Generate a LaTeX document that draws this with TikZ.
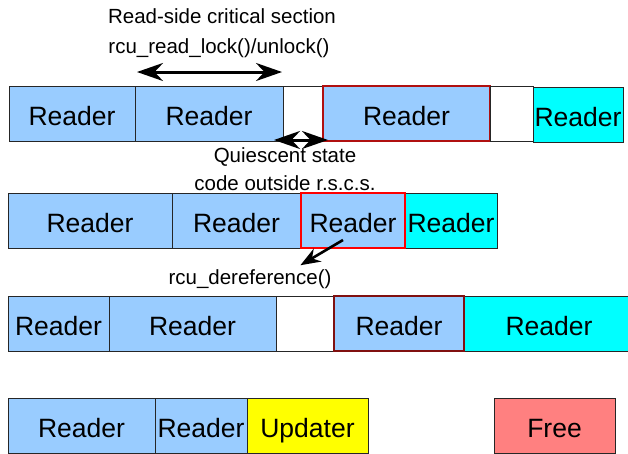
\documentclass[tikz,border=0pt]{standalone}
\usepackage{fontspec}
\setmainfont{Liberation Sans}
\usetikzlibrary{arrows.meta}
\definecolor{rdblue}{HTML}{99CCFF}
\definecolor{rdcyan}{HTML}{00FFFF}
\definecolor{updyellow}{HTML}{FFFF00}
\definecolor{freered}{HTML}{FF8080}
\definecolor{darkred}{HTML}{B01010}
\definecolor{maroon}{HTML}{801010}
\tikzset{
  seg/.style={draw=black!85, line width=0.8pt, inner sep=0pt, outer sep=0pt,
    minimum height=55pt, text height=24pt, text depth=0pt,
    font=\fontsize{26.5}{30}\selectfont, anchor=north west},
  rdr/.style={seg, fill=rdblue},
  cyn/.style={seg, fill=rdcyan},
  gap/.style={seg, fill=white},
  lbl/.style={font=\fontsize{20.5}{24}\selectfont, inner sep=0pt},
  dbl/.style={line width=3pt, {Stealth[length=26pt,width=18pt]}-{Stealth[length=26pt,width=18pt]}},
  sgl/.style={line width=2.6pt, -{Stealth[length=20pt,width=15pt]}}
}
\begin{document}
\begin{tikzpicture}[x=1pt,y=-1pt]
\useasboundingbox (0,0) rectangle (628,453);

% first timeline
\node[rdr, minimum width=126pt] (a1) at (9,86) {Reader};
\node[rdr, minimum width=148pt] (a2) at (135,86) {Reader};
\node[gap, minimum width=40pt] (a3) at (283,86) {};
\node[rdr, draw=darkred, line width=2pt, minimum width=167pt] (a4) at (323,86) {Reader};
\node[gap, minimum width=43pt] (a5) at (490,86) {};
\node[cyn, minimum width=90pt] (a6) at (533,87) {Reader};

% second timeline
\node[rdr, minimum width=164pt] (b1) at (8,193) {Reader};
\node[rdr, minimum width=129pt] (b2) at (172,193) {Reader};
\node[cyn, minimum width=92pt] (b4) at (405,193) {Reader};
\node[rdr, draw=red, line width=2.8pt, minimum width=104pt] (b3) at (301,193) {Reader};

% third timeline
\node[rdr, minimum width=101pt] (c1) at (8,296) {Reader};
\node[rdr, minimum width=167pt] (c2) at (109,296) {Reader};
\node[gap, minimum width=58pt] (c3) at (276,296) {};
\node[cyn, minimum width=170pt] (c5) at (464,296) {Reader};
\node[rdr, draw=maroon, line width=2pt, minimum width=130pt] (c4) at (334,296) {Reader};

% fourth timeline
\node[rdr, minimum width=147pt] (d1) at (8,398) {Reader};
\node[rdr, minimum width=92pt] (d2) at (155,398) {Reader};
\node[seg, fill=updyellow, minimum width=121pt] (d3) at (247,398) {Updater};
\node[seg, fill=freered, minimum width=121pt] (d4) at (494,398) {Free};

% labels
\node[lbl] (t1) at (222,16) {Read-side critical section};
\node[lbl] (t2) at (219,48) {rcu\_read\_lock()/unlock()};
\node[lbl] (t3) at (285,157) {Quiescent state};
\node[lbl] (t4) at (285,183) {code outside r.s.c.s.};
\node[lbl] (t5) at (250,279) {rcu\_dereference()};

% arrows
\coordinate (rl) at ([xshift=2pt,yshift=14pt]a2.north west);
\coordinate (rr) at ([xshift=-1pt,yshift=14pt]a2.north east);
\draw[dbl] (rl) -- (rr);
\coordinate (ql) at ([xshift=-9pt,yshift=1pt]a3.south west);
\coordinate (qr) at ([xshift=5pt,yshift=1pt]a3.south east);
\draw[dbl] (ql) -- (qr);
\coordinate (ds) at ([xshift=42pt,yshift=8pt]b3.south west);
\coordinate (de) at ([xshift=132pt,yshift=4pt]t5.north west);
\draw[sgl] (ds) -- (de);
\end{tikzpicture}
\end{document}
